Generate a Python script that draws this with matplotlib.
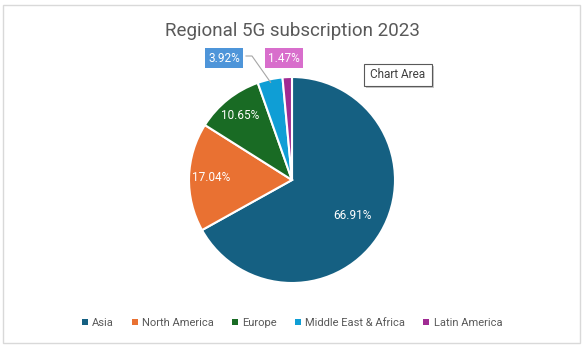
import numpy as np
import matplotlib.pyplot as plt
from matplotlib.patches import Rectangle

regions = ["Asia", "North America", "Europe", "Middle East & Africa", "Latin America"]
shares = [66.91, 17.04, 10.65, 3.92, 1.47]
colors = ["#156082", "#E97132", "#196B24", "#0F9ED5", "#A02B93"]

plt.rcParams['font.family'] = ['Roboto', 'DejaVu Sans']

W, H = 587, 351
fig = plt.figure(figsize=(W / 100, H / 100), dpi=100)
fig.patch.set_facecolor("white")


def frect(x0, y0, x1, y1, **kw):
    # rectangle given in pixel coordinates (top-left origin)
    fig.add_artist(Rectangle((x0 / W, 1 - y1 / H), (x1 - x0) / W, (y1 - y0) / H,
                             transform=fig.transFigure, **kw))


# chart area border
frect(3, 5, 580, 343, fill=False, edgecolor="#D9D9D9", linewidth=1)

# pie axes: centre (292,180), radius 103 px
cx, cy, r = 292, 180, 103
ax = fig.add_axes([(cx - r) / W, 1 - (cy + r) / H, 2 * r / W, 2 * r / H])
wedges, _ = ax.pie(shares, colors=colors, startangle=90, counterclock=False,
                   radius=1, wedgeprops=dict(edgecolor="white", linewidth=1.5))
ax.set_xlim(-1, 1)
ax.set_ylim(-1, 1)
ax.set_aspect("equal")
ax.axis("off")

fig.text(cx / W, 1 - 31 / H, "Regional 5G subscription 2023", ha="center", va="center",
         fontsize=13.5, color="#595959")

# inside labels
inside = {0: 0.68, 1: 0.79, 2: 0.8}
for i, w in enumerate(wedges):
    mid = np.deg2rad((w.theta1 + w.theta2) / 2)
    lab = f"{shares[i]:.2f}%"
    if i in inside:
        d = inside[i]
        ax.text(d * np.cos(mid), d * np.sin(mid), lab, ha="center", va="center",
                fontsize=8.5, color="white")


# outside labels with boxes
def px(x, y):
    return (x - cx) / r, (cy - y) / r


m3 = np.deg2rad((wedges[3].theta1 + wedges[3].theta2) / 2)
tip = (0.97 * np.cos(m3), 0.97 * np.sin(m3))
p0, p1 = px(246, 56), px(252, 56)
ax.plot([p0[0], p1[0], tip[0]], [p0[1], p1[1], tip[1]], color="#A6A6A6", lw=0.8,
        clip_on=False, zorder=1)
ax.text(*px(224, 58), f"{shares[3]:.2f}%", ha="center", va="center", fontsize=8.5,
        color="white", bbox=dict(boxstyle="square,pad=0.3", fc="#4E95D9", ec="none"))
ax.text(*px(284, 58), f"{shares[4]:.2f}%", ha="center", va="center", fontsize=8.5,
        color="white", bbox=dict(boxstyle="square,pad=0.3", fc="#D86ECC", ec="none"))

# tooltip with a small shadow
frect(366, 66, 434, 88, fc="#C8C8C8", ec="none")
frect(364, 64, 432, 86, fc="white", ec="#595959", lw=0.8)
fig.text(398 / W, 1 - 75 / H, "Chart Area", ha="center", va="center", fontsize=8.5,
         color="#404040")

# legend
leg = fig.legend(wedges, regions, loc="center", bbox_to_anchor=(292 / W, 1 - 323 / H),
                 ncol=5, frameon=False, fontsize=8, handlelength=0.55, handleheight=0.55,
                 handletextpad=0.4, columnspacing=1.6, labelcolor="#595959")
for h in leg.legend_handles:
    h.set_edgecolor("none")

fig.savefig("out.png", dpi=100)
